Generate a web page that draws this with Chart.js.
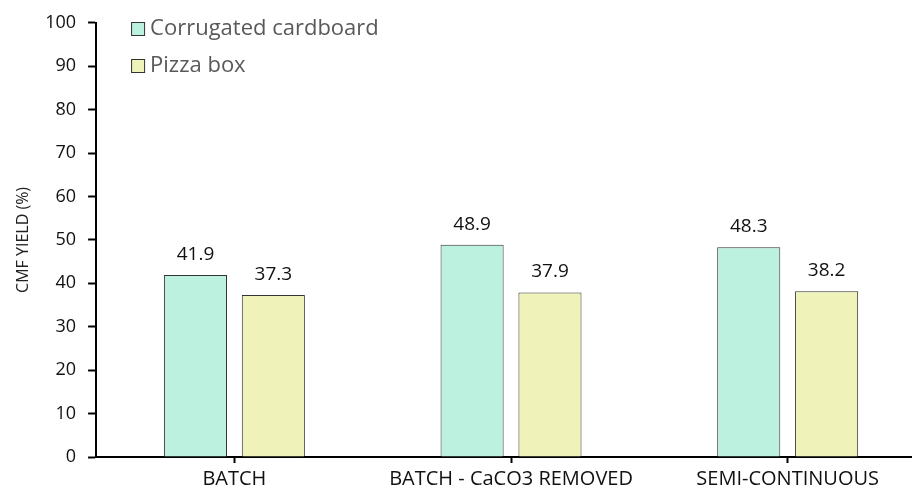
<!DOCTYPE html>
<html>
<head>
<meta charset="utf-8">
<script src="https://cdn.jsdelivr.net/npm/chart.js@4"></script>
<style>
  html, body { margin: 0; padding: 0; overflow: hidden; background: #fff; }
  #wrap { width: 926px; height: 495px; }
</style>
</head>
<body>
<div id="wrap"><canvas id="myChart"></canvas></div>
<script>
var categories = ["BATCH", "BATCH - CaCO3 REMOVED", "SEMI-CONTINUOUS"];
var seriesNames = ["Corrugated cardboard", "Pizza box"];
var corrugated = [41.9, 48.9, 48.3];
var pizzaBox = [37.3, 37.9, 38.2];
var yTicks = [0, 10, 20, 30, 40, 50, 60, 70, 80, 90, 100];

var fontFamily = "'Open Sans', 'Liberation Sans', sans-serif";

// value labels above the bars
var valueLabels = {
    id: "valueLabels",
    afterDatasetsDraw: function(chart){
        var ctx = chart.ctx;
        ctx.save();
        ctx.font = "19px " + fontFamily;
        ctx.fillStyle = "#111";
        ctx.textAlign = "center";
        ctx.textBaseline = "alphabetic";
        chart.data.datasets.forEach(function(ds, i){
            chart.getDatasetMeta(i).data.forEach(function(bar, j){
                ctx.fillText(ds.data[j].toFixed(1), bar.x, bar.y - 15);
            });
        });
        ctx.restore();
    }
};

// legend drawn inside the plot, top left
var innerLegend = {
    id: "innerLegend",
    afterDraw: function(chart){
        var ctx = chart.ctx;
        var x = chart.chartArea.left + 35;
        var y = chart.chartArea.top + 6.5;
        ctx.save();
        ctx.font = "22px " + fontFamily;
        ctx.textBaseline = "middle";
        chart.data.datasets.forEach(function(ds, i){
            var yy = Math.round(y + i * 37);
            ctx.fillStyle = ds.backgroundColor;
            ctx.fillRect(x, yy - 7, 13, 13);
            ctx.strokeStyle = "#333";
            ctx.lineWidth = 1;
            ctx.strokeRect(x + 0.5, yy - 6.5, 13, 13);
            ctx.fillStyle = "#595959";
            ctx.fillText(ds.label, x + 19, yy);
        });
        ctx.restore();
    }
};

const ctx = document.getElementById("myChart").getContext("2d");
var myChart = new Chart(ctx, {
    type: "bar",
    data: {
        labels: categories,
        datasets: [{
            label: seriesNames[0],
            data: corrugated,
            backgroundColor: "#bdf1df",
            borderColor: "#333",
            borderWidth: 1
        }, {
            label: seriesNames[1],
            data: pizzaBox,
            backgroundColor: "#eff3ba",
            borderColor: "#333",
            borderWidth: 1
        }]
    },
    options: {
        responsive: true,
        maintainAspectRatio: false,
        animation: false,
        layout: { padding: { top: 5, left: 14, right: 0, bottom: 0 } },
        categoryPercentage: 0.563,
        barPercentage: 0.81,
        plugins: {
            legend: { display: false },
            tooltip: { enabled: false }
        },
        scales: {
            x: {
                grid: {
                    display: true,
                    drawOnChartArea: false,
                    drawTicks: true,
                    tickLength: 6,
                    tickWidth: 2,
                    tickColor: "#000",
                    offset: false
                },
                border: { color: "#000", width: 2 },
                ticks: {
                    color: "#111",
                    font: { family: fontFamily, size: 20 },
                    padding: 4,
                    maxRotation: 0
                }
            },
            y: {
                min: 0,
                max: 100,
                afterBuildTicks: function(axis){
                    axis.ticks = yTicks.map(function(v){ return { value: v }; });
                },
                grid: {
                    display: true,
                    drawOnChartArea: false,
                    tickLength: 8,
                    tickWidth: 2,
                    tickColor: "#000"
                },
                border: { color: "#000", width: 2 },
                ticks: {
                    color: "#111",
                    font: { family: fontFamily, size: 18 },
                    padding: 12
                },
                title: {
                    display: true,
                    text: "CMF YIELD (%)",
                    color: "#222",
                    font: { family: fontFamily, size: 16 },
                    padding: 0
                }
            }
        }
    },
    plugins: [valueLabels, innerLegend]
});
</script>
</body>
</html>
